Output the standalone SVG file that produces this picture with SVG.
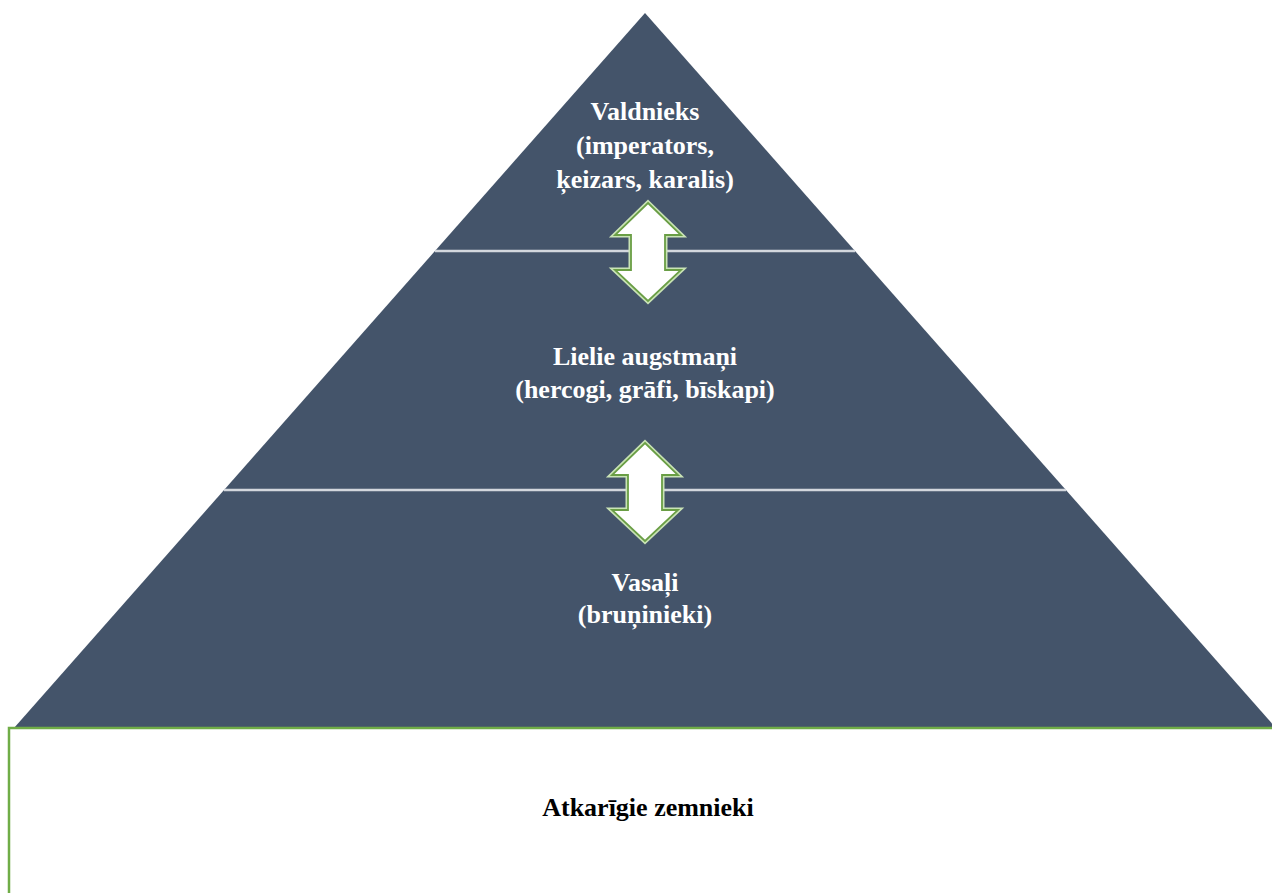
<svg xmlns="http://www.w3.org/2000/svg" width="1272" height="893" viewBox="0 0 1272 893">
<defs>
<style>
.lbl{font-family:"Liberation Serif","Times New Roman",serif;font-weight:bold;font-size:26px;text-anchor:middle;fill:#ffffff}
.dark{fill:#000000}
.sep{stroke:#d3d7dd;stroke-width:2.5;fill:none}
.glow{fill:none;stroke:#c9e3b5;stroke-width:5;stroke-linejoin:miter}
.arr{fill:#ffffff;stroke:#6a9e45;stroke-width:1.8;stroke-linejoin:miter}
</style>
<path id="dbl" d="M0,0 L33,32 L17,32 L17,67 L33,67 L0,98 L-33,67 L-17,67 L-17,32 L-33,32 Z"/>
</defs>
<rect width="1272" height="893" fill="#ffffff"/>
<g id="pyramid">
<polygon points="645,13 14,728 1276,728" fill="#44546a"/>
</g>
<g id="connectors">
<line class="sep" x1="435" y1="251" x2="855" y2="251"/>
<line class="sep" x1="224" y1="490" x2="1066" y2="490"/>
<g transform="translate(648,203)"><use href="#dbl" class="glow"/><use href="#dbl" class="arr"/></g>
<g transform="translate(645,443)"><use href="#dbl" class="glow"/><use href="#dbl" class="arr"/></g>
</g>
<g id="node-valdnieks">
<text class="lbl" x="645" y="120">Valdnieks</text>
<text class="lbl" x="645" y="154">(imperators,</text>
<text class="lbl" x="645" y="188">ķeizars, karalis)</text>
</g>
<g id="node-augstmani">
<text class="lbl" x="645" y="365">Lielie augstmaņi</text>
<text class="lbl" x="645" y="398">(hercogi, grāfi, bīskapi)</text>
</g>
<g id="node-vasali">
<text class="lbl" x="645" y="591">Vasaļi</text>
<text class="lbl" x="645" y="623">(bruņinieki)</text>
</g>
<g id="node-zemnieki">
<path d="M9,893 L9,728 L1272,728" fill="#ffffff" stroke="#70ad47" stroke-width="2.5"/>
<text class="lbl dark" x="648" y="816">Atkarīgie zemnieki</text>
</g>
</svg>
